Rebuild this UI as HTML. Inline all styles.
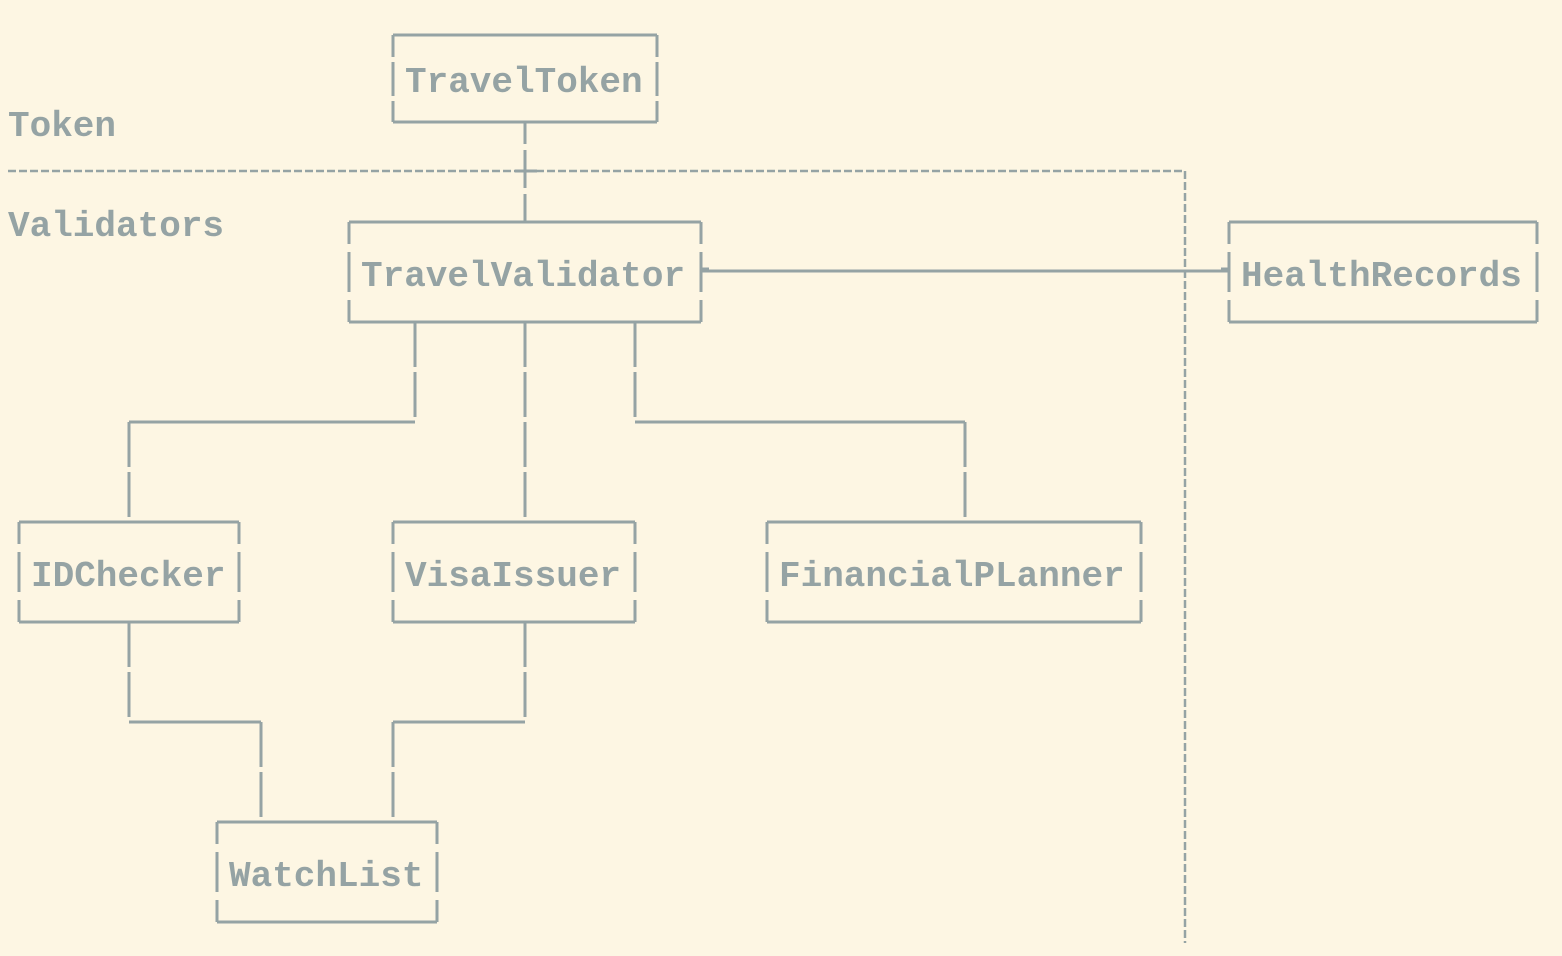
<!DOCTYPE html>
<html><head><style>
html,body{margin:0;padding:0;background:#fdf6e3;}
svg{display:block}
text{font-family:"Liberation Mono",monospace;font-weight:bold;font-size:36px;fill:#95a3a4}
</style></head><body>
<svg width="1562" height="956" viewBox="0 0 1562 956" xmlns="http://www.w3.org/2000/svg">
<g stroke="#95a3a4" stroke-width="3" fill="none">
<path d="M393 35H657M393 122H657M349 222H701M349 322H701M1229 222H1537M1229 322H1537M19 522H239M19 622H239M393 522H635M393 622H635M767 522H1141M767 622H1141M217 822H437M217 922H437"/>
<path d="M393 35V122M657 35V122" stroke-dasharray="22 5 34 5 40"/>
<path d="M349 222V322M701 222V322M1229 222V322M1537 222V322M19 522V622M239 522V622M393 522V622M635 522V622M767 522V622M1141 522V622M217 822V922M437 822V922" stroke-dasharray="22 8 40 8 40"/>
<!-- connectors -->
<path d="M525 122V222" stroke-dasharray="22 6 38 6 40"/>
<path d="M8 171H1185V943" stroke-width="2.5" stroke-dasharray="8 3"/>
<path d="M515 171H537"/>
<path d="M701 271H1229"/>
<path d="M701 270h8M1221 270h8" stroke-width="5"/>
<path d="M129 422H415M635 422H965M129 722H261M393 722H525"/>
<path d="M415 322V422M129 422V522M525 322V522M635 322V422M965 422V522M129 622V722M261 722V822M525 622V722M393 722V822" stroke-dasharray="45 5"/>
</g>
<text x="405" y="92">TravelToken</text>
<text x="361" y="286">TravelValidator</text>
<text x="1241" y="286">HealthRecords</text>
<text x="31" y="586">IDChecker</text>
<text x="405" y="586">VisaIssuer</text>
<text x="779" y="586">FinancialPLanner</text>
<text x="229" y="886">WatchList</text>
<text x="8" y="136">Token</text>
<text x="8" y="236">Validators</text>
</svg>
</body></html>
